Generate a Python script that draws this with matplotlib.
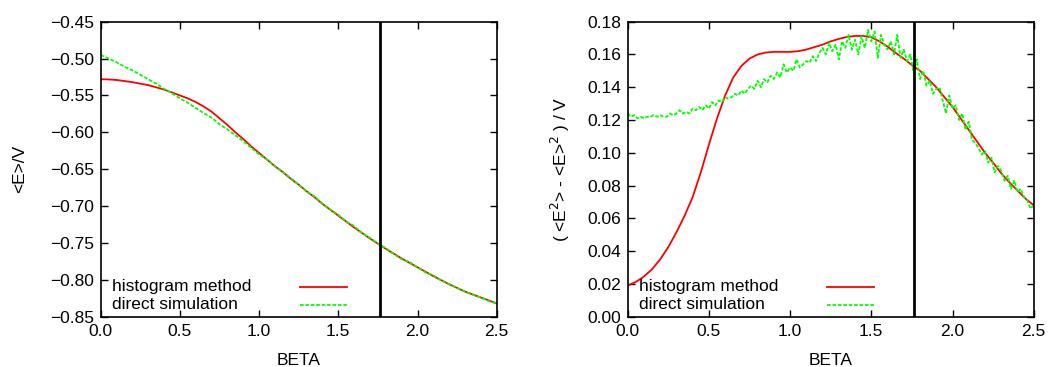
import numpy as np
import matplotlib
matplotlib.use("Agg")
import matplotlib.pyplot as plt

plt.rcParams['font.family'] = ['Liberation Sans', 'DejaVu Sans']
plt.rcParams['font.size'] = 12.5

RED = '#ff0000'
GREEN = '#00ff00'

# critical coupling, marked by the vertical line
BETA_C = [1.762]

# <E>/V, histogram method
beta_hist_e = np.round(np.arange(0, 2.501, 0.05), 2)
e_hist = [-0.528, -0.5283, -0.529, -0.5305, -0.532, -0.534, -0.536, -0.539,
          -0.542, -0.546, -0.550, -0.554, -0.559, -0.565, -0.572, -0.581,
          -0.590, -0.600, -0.609, -0.619, -0.628, -0.637, -0.646, -0.654,
          -0.663, -0.671, -0.680, -0.688, -0.697, -0.705, -0.713, -0.721,
          -0.729, -0.7365, -0.744, -0.751, -0.758, -0.7645, -0.771, -0.777,
          -0.783, -0.789, -0.795, -0.8005, -0.806, -0.811, -0.816, -0.820,
          -0.824, -0.828, -0.832]

# <E>/V, direct simulation
beta_sim_e = np.round(np.arange(0, 2.501, 0.05), 2)
e_sim = [-0.495, -0.500, -0.505, -0.511, -0.516, -0.522, -0.528, -0.534,
         -0.541, -0.547, -0.554, -0.560, -0.567, -0.574, -0.580, -0.589,
         -0.596, -0.604, -0.612, -0.621, -0.630, -0.637, -0.646, -0.654,
         -0.662, -0.671, -0.680, -0.687, -0.697, -0.705, -0.712, -0.721,
         -0.727, -0.737, -0.743, -0.751, -0.757, -0.765, -0.772, -0.776,
         -0.783, -0.790, -0.794, -0.801, -0.806, -0.811, -0.816, -0.820,
         -0.824, -0.829, -0.832]

# (<E^2> - <E>^2)/V, histogram method
beta_hist_c = np.round(np.arange(0, 2.501, 0.05), 2)
c_hist = [0.019, 0.0212, 0.0245, 0.029, 0.035, 0.0425, 0.0515, 0.0615, 0.073,
          0.088, 0.105, 0.121, 0.135, 0.146, 0.153, 0.1575, 0.160, 0.1612,
          0.1616, 0.1616, 0.1616, 0.162, 0.163, 0.1645, 0.166, 0.168,
          0.1695, 0.1707, 0.1713, 0.1713, 0.1705, 0.168, 0.1648, 0.161,
          0.1575, 0.1535, 0.150, 0.145, 0.140, 0.134, 0.128, 0.121, 0.114,
          0.107, 0.100, 0.094, 0.0875, 0.082, 0.077, 0.072, 0.068]

# (<E^2> - <E>^2)/V, direct simulation
beta_sim_c = np.round(np.arange(0, 2.501, 0.02), 2)
c_sim = [0.124, 0.122, 0.123, 0.121, 0.122, 0.121, 0.122, 0.122, 0.123,
         0.122, 0.123, 0.122, 0.122, 0.124, 0.123, 0.124, 0.126, 0.124,
         0.125, 0.124, 0.127, 0.126, 0.128, 0.126, 0.129, 0.127, 0.131,
         0.129, 0.132, 0.131, 0.134, 0.133, 0.134, 0.136, 0.135, 0.138,
         0.136, 0.139, 0.141, 0.139, 0.144, 0.140, 0.145, 0.143, 0.147,
         0.145, 0.149, 0.146, 0.154, 0.149, 0.152, 0.150, 0.157, 0.152,
         0.154, 0.156, 0.155, 0.159, 0.156, 0.161, 0.164, 0.160, 0.167,
         0.162, 0.166, 0.157, 0.168, 0.164, 0.172, 0.163, 0.169, 0.160,
         0.171, 0.164, 0.175, 0.168, 0.174, 0.158, 0.172, 0.166, 0.163,
         0.168, 0.160, 0.172, 0.158, 0.163, 0.156, 0.160, 0.149, 0.157,
         0.145, 0.150, 0.141, 0.144, 0.136, 0.139, 0.140, 0.132, 0.124,
         0.135, 0.127, 0.129, 0.120, 0.124, 0.114, 0.119, 0.108, 0.106,
         0.103, 0.099, 0.101, 0.094, 0.097, 0.088, 0.092, 0.089, 0.083,
         0.086, 0.078, 0.083, 0.076, 0.078, 0.073, 0.071, 0.066, 0.068]

LEGEND_LABELS = ["histogram method", "direct simulation"]


def styleAxes(ax, yTicks, yFormat):
    ax.set_xlim(0, 2.5)
    ax.set_ylim(yTicks[0], yTicks[-1])
    ax.set_xticks(np.arange(0, 2.51, 0.5))
    ax.set_xticklabels([f"{x:.1f}" for x in np.arange(0, 2.51, 0.5)])
    ax.set_yticks(yTicks)
    ax.set_yticklabels([yFormat.format(y).replace("-", "\u2212") for y in yTicks])
    ax.tick_params(direction='in', length=5, width=1, top=True, right=True,
                   labelsize=12.5, pad=5)
    for spine in ax.spines.values():
        spine.set_linewidth(1.2)
    ax.set_xlabel("BETA", fontsize=12.5, labelpad=10)


def drawKey(ax, fig):
    # gnuplot style key: text on the left, sample line on the right
    axW = ax.get_position().width * fig.get_figwidth() * fig.dpi
    axH = ax.get_position().height * fig.get_figheight() * fig.dpi
    styles = [dict(color=RED, lw=1.3, ls='-'),
              dict(color=GREEN, lw=1.3, ls=(0, (2, 1)))]
    rowsY = [30, 12]
    for label, style, rowY in zip(LEGEND_LABELS, styles, rowsY):
        ax.text(11 / axW, rowY / axH, label, transform=ax.transAxes,
                ha='left', va='center', fontsize=12.5)
        ax.plot([199 / axW, 246 / axW], [rowY / axH, rowY / axH],
                transform=ax.transAxes, **style)


fig = plt.figure(figsize=(10.54, 3.67), dpi=100)
ax0 = fig.add_axes([100.7 / 1054, 1 - 316.7 / 367, 396 / 1054, 295 / 367])
ax1 = fig.add_axes([627.7 / 1054, 1 - 316.7 / 367, 406 / 1054, 295 / 367])

# energy per site
ax0.plot(beta_hist_e, e_hist, color=RED, lw=1.3)
ax0.plot(beta_sim_e, e_sim, color=GREEN, lw=1.3, ls=(0, (2, 1)))
ax0.axvline(BETA_C[0], color='k', lw=2)
styleAxes(ax0, np.round(np.arange(-0.85, -0.449, 0.05), 2), "{:.2f}")
ax0.set_ylabel("<E>/V", fontsize=12.5, labelpad=16)
drawKey(ax0, fig)

# energy fluctuations
ax1.plot(beta_hist_c, c_hist, color=RED, lw=1.3)
ax1.plot(beta_sim_c, c_sim, color=GREEN, lw=1.3, ls=(0, (2, 1)))
ax1.axvline(BETA_C[0], color='k', lw=2)
styleAxes(ax1, np.round(np.arange(0, 0.181, 0.02), 2), "{:.2f}")
ax1.set_ylabel(r"( <E$^2$> - <E>$^2$ ) / V", fontsize=12.5, labelpad=11)
drawKey(ax1, fig)

fig.savefig("out.png", dpi=100)
